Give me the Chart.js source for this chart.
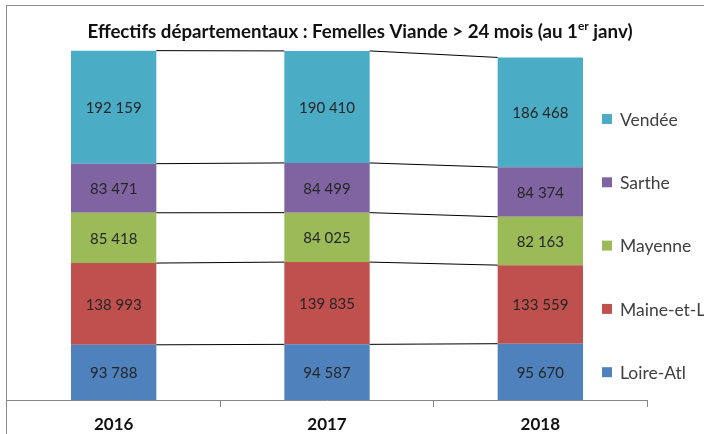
<!DOCTYPE html>
<html>
<head>
<meta charset="utf-8">
<script src="https://cdn.jsdelivr.net/npm/chart.js@4"></script>
<style>
html, body { margin: 0; padding: 0; background: #fff; }
#wrap { position: relative; width: 704px; height: 434px; overflow: hidden; }
#frame { position: absolute; left: 6px; top: 5px; right: -2px; bottom: -2px; border-left: 1px solid #8c8c8c; border-top: 1px solid #8c8c8c; }
canvas { position: absolute; left: 0; top: 0; }
</style>
</head>
<body>
<div id="wrap">
  <div id="frame"></div>
  <canvas id="chart" width="704" height="443"></canvas>
</div>
<script>
var years = ["2016", "2017", "2018"];
var names = ["Loire-Atl", "Maine-et-L", "Mayenne", "Sarthe", "Vendée"];
var loireAtl = [93788, 94587, 95670];
var maineEtL = [138993, 139835, 133559];
var mayenne = [85418, 84025, 82163];
var sarthe = [83471, 84499, 84374];
var vendee = [192159, 190410, 186468];
var colors = ["#4F81BD", "#C0504D", "#9BBB59", "#8064A2", "#4BACC6"];
var titleMain = "Effectifs départementaux : Femelles Viande > 24 mois (au 1";
var titleSup = "er";
var titleEnd = " janv)";

var font = "Lato, 'Open Sans', sans-serif";

function fmt(v) {
  return String(v).replace(/\B(?=(\d{3})+(?!\d))/g, " ");
}

// title, series lines, value labels and legend
var extras = {
  id: "extras",
  afterDatasetsDraw: function(chart) {
    var ctx = chart.ctx;
    var sets = chart.data.datasets;
    ctx.save();

    // series lines between bars
    ctx.strokeStyle = "#000";
    ctx.lineWidth = 1;
    sets.forEach(function(ds, k) {
      var meta = chart.getDatasetMeta(k);
      for (var i = 0; i < meta.data.length - 1; i++) {
        var a = meta.data[i], b = meta.data[i + 1];
        ctx.beginPath();
        ctx.moveTo(a.x + a.width / 2, a.y);
        ctx.lineTo(b.x - b.width / 2, b.y);
        ctx.stroke();
      }
    });

    // value labels
    ctx.fillStyle = "#262626";
    ctx.font = "15px " + font;
    ctx.textAlign = "center";
    ctx.textBaseline = "middle";
    sets.forEach(function(ds, k) {
      var meta = chart.getDatasetMeta(k);
      meta.data.forEach(function(el, i) {
        ctx.fillText(fmt(ds.data[i]), el.x, (el.y + el.base) / 2 + 1);
      });
    });

    // legend (reverse order, top to bottom)
    ctx.textAlign = "left";
    ctx.font = "17.5px " + font;
    for (var r = 0; r < sets.length; r++) {
      var k = sets.length - 1 - r;
      var ly = 119 + r * 63.3;
      ctx.fillStyle = sets[k].backgroundColor;
      ctx.fillRect(602, ly - 5, 10, 10);
      ctx.fillStyle = "#404040";
      ctx.fillText(sets[k].label, 620, ly + 1);
    }

    // title with superscript
    ctx.fillStyle = "#111";
    ctx.textBaseline = "alphabetic";
    var big = "bold 18.7px " + font, small = "bold 12px " + font;
    ctx.font = big;
    var w1 = ctx.measureText(titleMain).width, w3 = ctx.measureText(titleEnd).width;
    ctx.font = small;
    var w2 = ctx.measureText(titleSup).width;
    var x = 360 - (w1 + w2 + w3) / 2;
    ctx.font = big;
    ctx.fillText(titleMain, x, 38);
    ctx.font = small;
    ctx.fillText(titleSup, x + w1, 30);
    ctx.font = big;
    ctx.fillText(titleEnd, x + w1 + w2, 38);

    ctx.restore();
  }
};

var series = [loireAtl, maineEtL, mayenne, sarthe, vendee];

new Chart("chart", {
  type: "bar",
  data: {
    labels: years,
    datasets: series.map(function(vals, k) {
      return {
        label: names[k],
        data: vals,
        backgroundColor: colors[k],
        borderWidth: 0,
        categoryPercentage: 1,
        barPercentage: 0.4
      };
    })
  },
  options: {
    responsive: false,
    animation: false,
    layout: { padding: { left: 7, right: 57, top: 47, bottom: 0 } },
    plugins: {
      legend: { display: false },
      title: { display: false },
      tooltip: { enabled: false }
    },
    scales: {
      x: {
        stacked: true,
        grid: { offset: true, drawOnChartArea: false, drawTicks: true, tickLength: 7, color: "#868686" },
        border: { display: true, color: "#868686", width: 1 },
        ticks: { color: "#111", font: { family: font, size: 17, weight: "bold", lineHeight: 1 }, padding: 9.5 }
      },
      y: {
        stacked: true,
        display: false,
        min: 0,
        max: 600000
      }
    }
  },
  plugins: [extras]
});
</script>
</body>
</html>
